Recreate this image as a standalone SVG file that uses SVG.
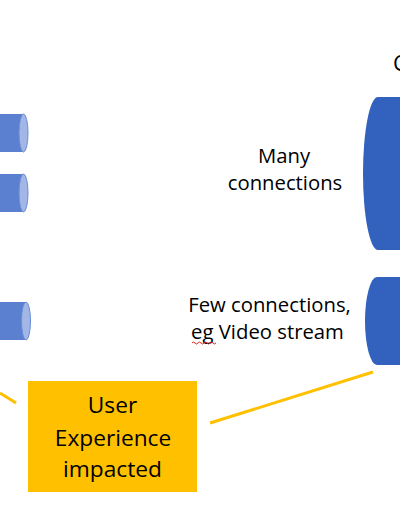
<svg xmlns="http://www.w3.org/2000/svg" width="400" height="516" viewBox="0 0 400 516">
<style>
.cylb{fill:#5B80D0}
.cap{fill:#A3B7E6;stroke:#6A8CD6;stroke-width:1}
.big{fill:#3262BE}
.t{font-family:"Open Sans","Liberation Sans",sans-serif;fill:#000;text-anchor:middle}
.conn{stroke:#FFC000;stroke-width:3;fill:none}
</style>
<rect width="400" height="516" fill="#fff"/>
<g id="connectors">
<line class="conn" x1="0" y1="393" x2="16" y2="403"/>
<line class="conn" x1="210" y1="423" x2="373" y2="372"/>
</g>
<g id="cyl-small-1">
<rect class="cylb" x="-1" y="114" width="24.5" height="38"/>
<ellipse class="cap" cx="23.5" cy="133" rx="4.5" ry="19"/>
</g>
<g id="cyl-small-2">
<rect class="cylb" x="-1" y="174" width="24.5" height="38"/>
<ellipse class="cap" cx="23.5" cy="193" rx="4.5" ry="19"/>
</g>
<g id="cyl-small-3">
<rect class="cylb" x="-1" y="302" width="27" height="38"/>
<ellipse class="cap" cx="26" cy="321" rx="4.5" ry="19"/>
</g>
<g id="cyl-big-1">
<path class="big" d="M401 97 L378 97 A15 76.5 0 0 0 378 250 L401 250 Z"/>
</g>
<g id="cyl-big-2">
<path class="big" d="M401 277 L377 277 A12 44 0 0 0 377 365 L401 365 Z"/>
</g>
<g id="label-top">
<text class="t" x="393" y="71" font-size="22" style="text-anchor:start">C</text>
</g>
<g id="label-many">
<text class="t" x="284" y="163" font-size="20.3">Many</text>
<text class="t" x="285" y="190" font-size="20.3">connections</text>
</g>
<g id="label-few">
<text class="t" x="269.5" y="312" font-size="20.3">Few connections,</text>
<text class="t" x="267.5" y="339" font-size="20.3">eg Video stream</text>
<path d="M192 343 q1.5 -2 3 0 t3 0 t3 0 t3 0 t3 0 t3 0 t3 0 t3 0" fill="none" stroke="#E02020" stroke-width="1"/>
</g>
<g id="ux-box">
<rect x="28" y="381" width="169" height="111" fill="#FFC000"/>
<text class="t" x="112.5" y="413" font-size="22.7">User</text>
<text class="t" x="113" y="446" font-size="22.7">Experience</text>
<text class="t" x="112.5" y="477" font-size="22.7">impacted</text>
</g>
</svg>
